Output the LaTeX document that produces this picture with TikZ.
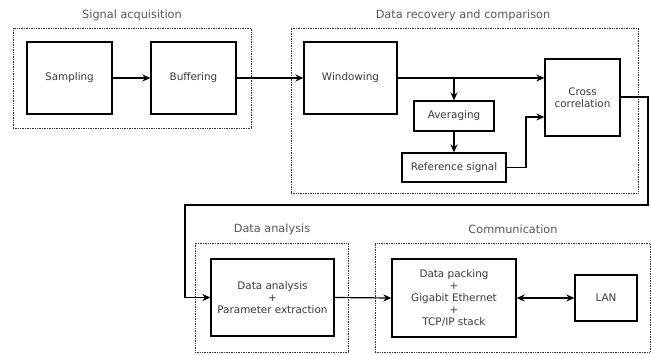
\documentclass[tikz,border=0pt]{standalone}
\usepackage{fontspec}
\setmainfont{DejaVu Sans}
\usetikzlibrary{arrows.meta,positioning}
\definecolor{txt}{HTML}{3A3A3A}
\tikzset{
  blk/.style={draw=black,line width=1.3pt,fill=white,inner sep=0pt,align=center,text=txt,font=\fontsize{10.4}{12}\selectfont},
  grp/.style={draw=black!80,densely dotted,line width=0.7pt,inner sep=0pt},
  ttl/.style={text=txt!85,font=\fontsize{11.3}{13}\selectfont},
  con/.style={line width=1.2pt,-{Stealth[length=8pt,width=7pt]}},
  bicon/.style={line width=1.2pt,{Stealth[length=8pt,width=7pt]}-{Stealth[length=8pt,width=7pt]}}
}
\begin{document}
\begin{tikzpicture}[x=1pt,y=-1pt]
\useasboundingbox (0,0) rectangle (651,354);
% groups
\node[grp,minimum width=238pt,minimum height=100pt] (g1) at (132,78) {};
\node[grp,minimum width=347pt,minimum height=165pt] (g2) at (464.5,110.5) {};
\node[grp,minimum width=153pt,minimum height=109pt] (g3) at (271.5,297.5) {};
\node[grp,minimum width=275pt,minimum height=109pt] (g4) at (512.5,297.5) {};
\node[ttl] (t1) at (132,15) {Signal acquisition};
\node[ttl] (t2) at (463,15) {Data recovery and comparison};
\node[ttl] (t3) at (272,229) {Data analysis};
\node[ttl] (t4) at (513,229) {Communication};
% blocks
\node[blk,minimum width=85pt,minimum height=72pt] (samp) at (69.5,78) {Sampling};
\node[blk,minimum width=85pt,minimum height=72pt] (buf) at (193.5,78) {Buffering};
\node[blk,minimum width=93pt,minimum height=72pt] (win) at (350.5,78) {Windowing};
\node[blk,minimum width=75pt,minimum height=77pt] (cc) at (582.5,97.5) {Cross\\correlation};
\node[blk,minimum width=80pt,minimum height=30pt] (avg) at (454,116) {Averaging};
\node[blk,minimum width=104pt,minimum height=29pt] (ref) at (454,167.5) {Reference signal};
\node[blk,minimum width=123pt,minimum height=77pt] (da) at (272.5,297.5) {Data analysis\\+\\Parameter extraction};
\node[blk,minimum width=124pt,minimum height=78pt] (dp) at (454,298) {Data packing\\+\\Gigabit Ethernet\\+\\TCP/IP stack};
\node[blk,minimum width=62pt,minimum height=46pt] (lan) at (606,298) {LAN};
% connectors
\coordinate (br) at (454,78);
\coordinate (rr) at (526,117);
\coordinate (o1) at (648,97);
\coordinate (o2) at (648,205);
\coordinate (o3) at (185,205);
\draw[con] (samp.east) -- (buf.west);
\draw[con] (buf.east) -- (win.west);
\draw[con] (win.east) -- (win.east -| cc.west);
\draw[con] (br) -- (avg.north);
\draw[con] (avg.south) -- (ref.north);
\draw[con] (ref.east) -| (rr) -- (rr -| cc.west);
\draw[con] (o1 -| cc.east) -- (o1) -- (o2) -- (o3) |- (da.west);
\draw[con] (da.east) -- (dp.west);
\draw[bicon] (dp.east) -- (lan.west);
\end{tikzpicture}
\end{document}
